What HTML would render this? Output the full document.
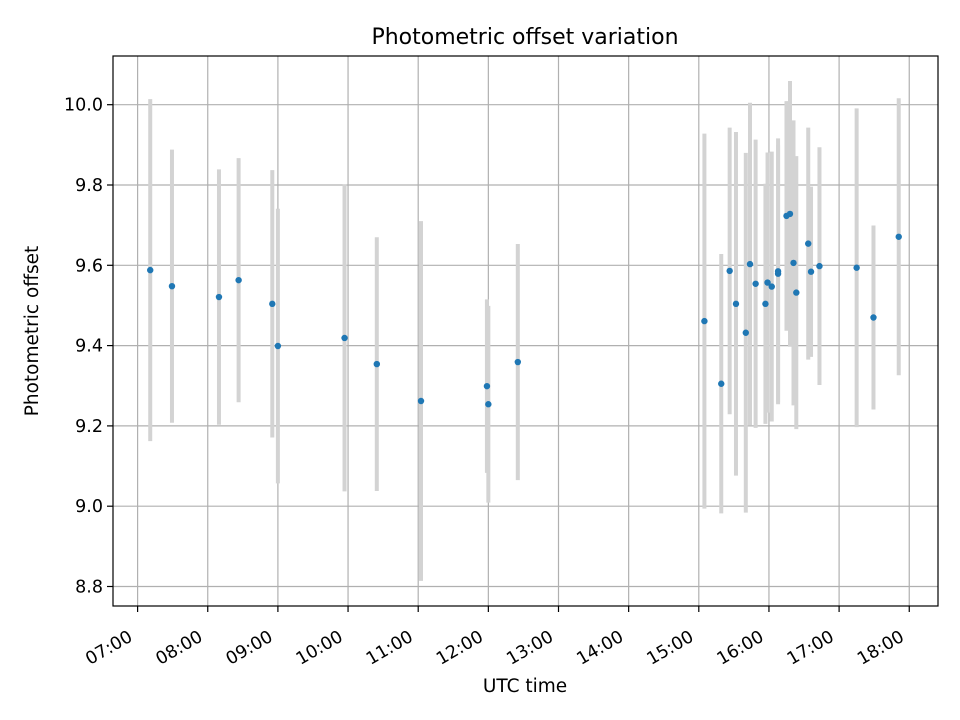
<!DOCTYPE html>
<html><head><meta charset="utf-8"><style>
body{margin:0;background:#fff}
svg{display:block;font-family:"DejaVu Sans","Liberation Sans",sans-serif}
</style></head><body>
<svg id="chart" width="960" height="720" xmlns="http://www.w3.org/2000/svg">
<text x="525" y="44" text-anchor="middle" font-size="22">Photometric offset variation</text>
<text x="525" y="692" text-anchor="middle" font-size="18.5">UTC time</text>
<text transform="translate(38,331) rotate(-90)" text-anchor="middle" font-size="18.5">Photometric offset</text>
</svg>
<script>
const times = [7.18,7.49,8.16,8.44,8.92,9.00,9.95,10.41,11.04,11.98,12.00,12.42,
15.08,15.32,15.44,15.53,15.67,15.73,15.81,15.95,15.98,16.04,16.13,16.13,16.25,16.30,16.35,16.39,16.56,16.60,16.72,17.25,17.49,17.85];
const offsets = [9.588,9.548,9.521,9.563,9.504,9.399,9.419,9.354,9.262,9.299,9.254,9.359,
9.461,9.305,9.586,9.504,9.432,9.603,9.554,9.504,9.557,9.547,9.585,9.579,9.723,9.728,9.606,9.532,9.654,9.584,9.598,9.594,9.470,9.671];
const errors = [0.426,0.340,0.318,0.304,0.333,0.342,0.382,0.316,0.448,0.216,0.245,0.294,
0.467,0.323,0.357,0.428,0.448,0.402,0.359,0.299,0.324,0.336,0.331,0.32,0.286,0.331,0.355,0.340,0.289,0.212,0.296,0.397,0.229,0.345];
const yTicks = [8.8,9.0,9.2,9.4,9.6,9.8,10.0];
const xTicks = [7,8,9,10,11,12,13,14,15,16,17,18];
const xTickLabels = ["07:00","08:00","09:00","10:00","11:00","12:00","13:00","14:00","15:00","16:00","17:00","18:00"];

const L=113,R=938,T=56,B=606;
const xs = h => 137.6 + (h-7)*70.15;
const ys = v => 104.7 + (10-v)*401.5;
const NS="http://www.w3.org/2000/svg";
const svg=document.getElementById('chart');
function mk(tag,attrs,parent){const e=document.createElementNS(NS,tag);for(const k in attrs)e.setAttribute(k,attrs[k]);(parent||svg).appendChild(e);return e;}

const grid=mk('g',{});


yTicks.forEach(v=>{
  const y=ys(v);
  const gl=mk('line',{x1:L,x2:R,y1:y,y2:y,stroke:'#b0b0b0','stroke-width':1.2},grid);
  
  
  const tk=mk('line',{x1:L-6,x2:L,y1:y,y2:y,stroke:'#000','stroke-width':1.2});
  
  
  const t=mk('text',{x:L-10,y:y+6,'text-anchor':'end','font-size':17.5});
  t.textContent=v.toFixed(1);
  
  
});
xTicks.forEach((h,i)=>{
  const x=xs(h);
  const gl=mk('line',{x1:x,x2:x,y1:T,y2:B,stroke:'#b0b0b0','stroke-width':1.2},grid);
  
  
  const tk=mk('line',{x1:x,x2:x,y1:B,y2:B+6,stroke:'#000','stroke-width':1.2});
  
  
  const t=mk('text',{x:0,y:0,'text-anchor':'end','font-size':17.5,transform:`translate(${x-4},${B+34}) rotate(-30)`});
  t.textContent=xTickLabels[i];
  
  
});
const eg=mk('g',{});


times.forEach((h,i)=>{
  const e=mk('line',{x1:xs(h),x2:xs(h),y1:ys(offsets[i]+errors[i]),y2:ys(offsets[i]-errors[i]),stroke:'#d3d3d3','stroke-width':4},eg);
  
  
});
const pg=mk('g',{});


times.forEach((h,i)=>{
  const c=mk('circle',{cx:xs(h),cy:ys(offsets[i]),r:3.2,fill:'#1f77b4'},pg);
  
  
});
const fr=mk('rect',{x:L,y:T,width:R-L,height:B-T,fill:'none',stroke:'#000','stroke-width':1.2});


</script>
</body></html>
